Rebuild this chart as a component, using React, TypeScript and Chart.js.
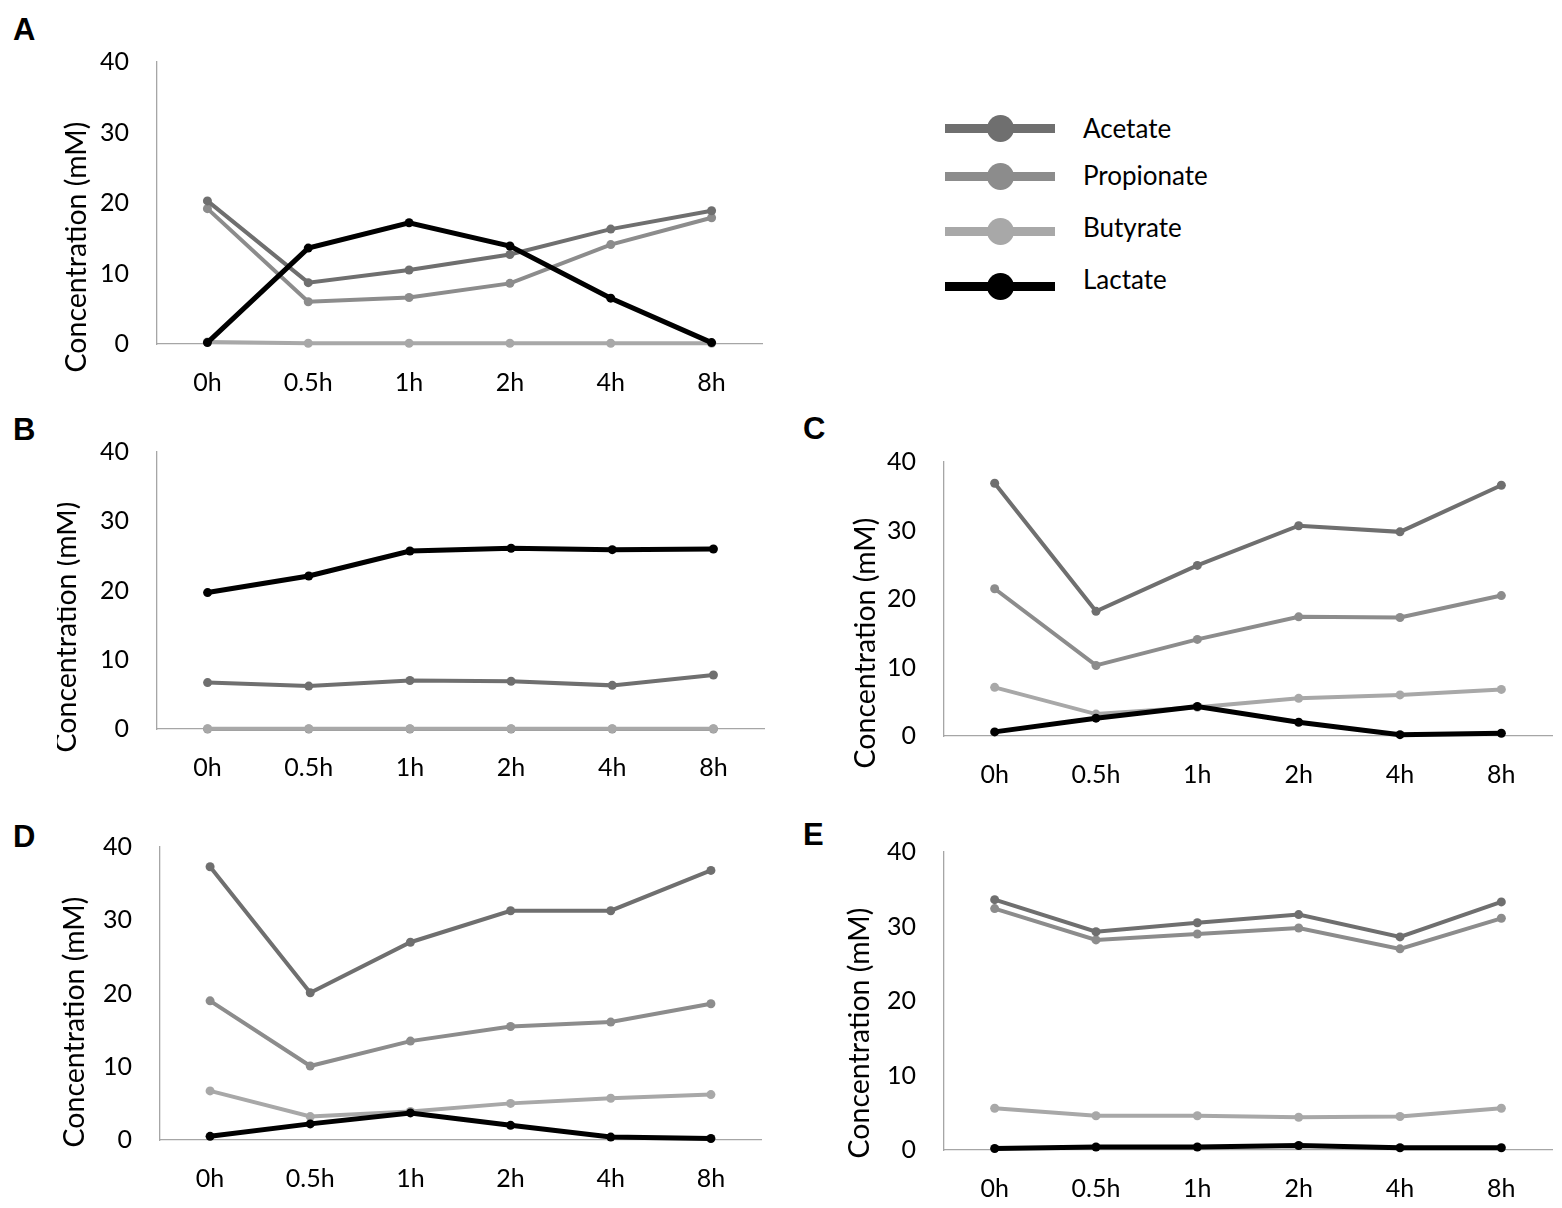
import { useEffect, useRef } from "react";
import { Chart, registerables } from "chart.js";

Chart.register(...registerables);

// ---- data ----
const TIMES = ["0h", "0.5h", "1h", "2h", "4h", "8h"];
const SERIES = ["Acetate", "Propionate", "Butyrate", "Lactate"];
const Y_TITLE = "Concentration (mM)";

const A_ACETATE = [20.3, 8.7, 10.5, 12.7, 16.3, 18.9];
const A_PROPIONATE = [19.2, 6.0, 6.6, 8.6, 14.1, 17.9];
const A_BUTYRATE = [0.3, 0.1, 0.1, 0.1, 0.1, 0.1];
const A_LACTATE = [0.2, 13.6, 17.2, 13.9, 6.5, 0.2];

const B_ACETATE = [6.7, 6.2, 7.0, 6.9, 6.3, 7.8];
const B_PROPIONATE = [0, 0, 0, 0, 0, 0];
const B_BUTYRATE = [0.05, 0.05, 0.05, 0.05, 0.05, 0.05];
const B_LACTATE = [19.7, 22.1, 25.7, 26.1, 25.9, 26.0];

const C_ACETATE = [36.9, 18.2, 24.9, 30.7, 29.8, 36.6];
const C_PROPIONATE = [21.5, 10.3, 14.1, 17.4, 17.3, 20.5];
const C_BUTYRATE = [7.1, 3.2, 4.2, 5.5, 6.0, 6.8];
const C_LACTATE = [0.6, 2.6, 4.3, 2.0, 0.2, 0.4];

const D_ACETATE = [37.3, 20.1, 27.0, 31.3, 31.3, 36.8];
const D_PROPIONATE = [19.0, 10.1, 13.5, 15.5, 16.1, 18.6];
const D_BUTYRATE = [6.7, 3.2, 3.9, 5.0, 5.7, 6.2];
const D_LACTATE = [0.5, 2.2, 3.7, 2.0, 0.4, 0.2];

const E_ACETATE = [33.6, 29.3, 30.5, 31.6, 28.6, 33.3];
const E_PROPIONATE = [32.4, 28.2, 29.0, 29.8, 27.0, 31.1];
const E_BUTYRATE = [5.6, 4.6, 4.6, 4.4, 4.5, 5.6];
const E_LACTATE = [0.2, 0.4, 0.4, 0.6, 0.3, 0.3];

// ---- styling ----
const COLORS = ["#6f6f6f", "#8c8c8c", "#a8a8a8", "#000000"];
const WIDTHS = [4, 4, 4, 5];
const DRAW_ORDER = [2, 3, 1, 0]; // lower = drawn on top
const FONT = "Lato, 'Open Sans', sans-serif";

const Y_AXIS_W = 100;
const PAD_TOP = 46; // must exceed the y axis' own top padding (half label + tick padding)
const PAD_RIGHT = 6;
const X_AXIS_H = 56;

type Layout = {
  letter: string;
  left: number; top: number; right: number; bottom: number;
  titleX: number; titleY: number;
  letterX: number; letterY: number;
  values: number[][];
};

const PANELS: Layout[] = [
  { letter: "A", left: 157, top: 62, right: 762, bottom: 344, titleX: 77, titleY: 247, letterX: 13, letterY: 14,
    values: [A_ACETATE, A_PROPIONATE, A_BUTYRATE, A_LACTATE] },
  { letter: "B", left: 157, top: 452, right: 764, bottom: 729, titleX: 67, titleY: 627, letterX: 13, letterY: 414,
    values: [B_ACETATE, B_PROPIONATE, B_BUTYRATE, B_LACTATE] },
  { letter: "C", left: 944, top: 462, right: 1552, bottom: 736, titleX: 866, titleY: 643, letterX: 803, letterY: 413,
    values: [C_ACETATE, C_PROPIONATE, C_BUTYRATE, C_LACTATE] },
  { letter: "D", left: 160, top: 847, right: 761, bottom: 1140, titleX: 75, titleY: 1022, letterX: 13, letterY: 821,
    values: [D_ACETATE, D_PROPIONATE, D_BUTYRATE, D_LACTATE] },
  { letter: "E", left: 944, top: 852, right: 1552, bottom: 1150, titleX: 860, titleY: 1033, letterX: 803, letterY: 819,
    values: [E_ACETATE, E_PROPIONATE, E_BUTYRATE, E_LACTATE] },
];

const LEGEND_LINE_Y = [128, 176, 231, 286];
const LEGEND_TEXT_Y = [128, 175, 227, 279];

function Panel({ p }: { p: Layout }) {
  const canvasRef = useRef<HTMLCanvasElement>(null);
  const chartRef = useRef<Chart | null>(null);

  const cLeft = p.left - Y_AXIS_W;
  const cTop = p.top - PAD_TOP;
  const cW = p.right - p.left + Y_AXIS_W + PAD_RIGHT;
  const cH = p.bottom - p.top + PAD_TOP + X_AXIS_H;

  useEffect(() => {
    if (!canvasRef.current) return;
    if (chartRef.current) chartRef.current.destroy();

    // rotated axis title, placed where the figure has it (not centred on the axis)
    const yTitle = {
      id: "yTitle",
      afterDraw(chart: Chart) {
        const ctx = chart.ctx;
        ctx.save();
        ctx.translate(p.titleX - cLeft, p.titleY - cTop);
        ctx.rotate(-Math.PI / 2);
        ctx.font = `28.5px ${FONT}`;
        ctx.fillStyle = "#000";
        ctx.textAlign = "center";
        ctx.textBaseline = "middle";
        ctx.fillText(Y_TITLE, 0, 0);
        ctx.restore();
      },
    };

    chartRef.current = new Chart(canvasRef.current, {
      type: "line",
      data: {
        labels: TIMES,
        datasets: SERIES.map((name, i) => ({
          label: name,
          data: p.values[i],
          borderColor: COLORS[i],
          backgroundColor: COLORS[i],
          borderWidth: WIDTHS[i],
          pointRadius: 4.5,
          pointBorderWidth: 0,
          tension: 0,
          order: DRAW_ORDER[i],
          clip: false as any,
        })),
      },
      options: {
        animation: false,
        responsive: true,
        maintainAspectRatio: false,
        layout: { padding: { top: PAD_TOP, right: PAD_RIGHT, left: 0, bottom: 0 } },
        plugins: { legend: { display: false }, tooltip: { enabled: false } },
        scales: {
          x: {
            type: "category",
            offset: true,
            grid: { display: false, drawTicks: false },
            border: { display: true, color: "#a6a6a6", width: 1.3 },
            ticks: { color: "#000", padding: 24, font: { family: FONT, size: 25 }, maxRotation: 0 },
            afterFit: (s: any) => { s.height = X_AXIS_H; },
          },
          y: {
            min: 0,
            max: 40,
            grid: { display: false, drawTicks: false },
            border: { display: true, color: "#a6a6a6", width: 1.3 },
            ticks: { stepSize: 10, color: "#000", padding: 28, font: { family: FONT, size: 25 } },
            afterFit: (s: any) => { s.width = Y_AXIS_W; },
          },
        },
      },
      plugins: [yTitle],
    });

    return () => { chartRef.current?.destroy(); chartRef.current = null; };
  }, [p]);

  return (
    <>
      <div style={{ position: "absolute", left: cLeft, top: cTop, width: cW, height: cH }}>
        <canvas ref={canvasRef} />
      </div>
      <div
        style={{
          position: "absolute", left: p.letterX, top: p.letterY,
          fontFamily: "'Liberation Sans', Arial, sans-serif", fontWeight: "bold",
          fontSize: 31, lineHeight: "31px",
        }}
      >
        {p.letter}
      </div>
    </>
  );
}

function Legend() {
  return (
    <>
      {SERIES.map((name, i) => (
        <div key={name}>
          <div style={{
            position: "absolute", left: 945, top: LEGEND_LINE_Y[i] - 4.5, width: 110, height: 9,
            background: COLORS[i],
          }} />
          <div style={{
            position: "absolute", left: 1000 - 13.5, top: LEGEND_LINE_Y[i] - 13.5, width: 27, height: 27,
            borderRadius: "50%", background: COLORS[i],
          }} />
          <div style={{
            position: "absolute", left: 1083, top: LEGEND_TEXT_Y[i] - 15, height: 30, lineHeight: "30px",
            fontFamily: FONT, fontSize: 26, color: "#000", whiteSpace: "nowrap",
          }}>
            {name}
          </div>
        </div>
      ))}
    </>
  );
}

export default function App() {
  return (
    <div style={{ position: "absolute", left: 0, top: 0, width: 1562, height: 1208, background: "#fff", overflow: "hidden" }}>
      {PANELS.map(p => <Panel key={p.letter} p={p} />)}
      <Legend />
    </div>
  );
}
